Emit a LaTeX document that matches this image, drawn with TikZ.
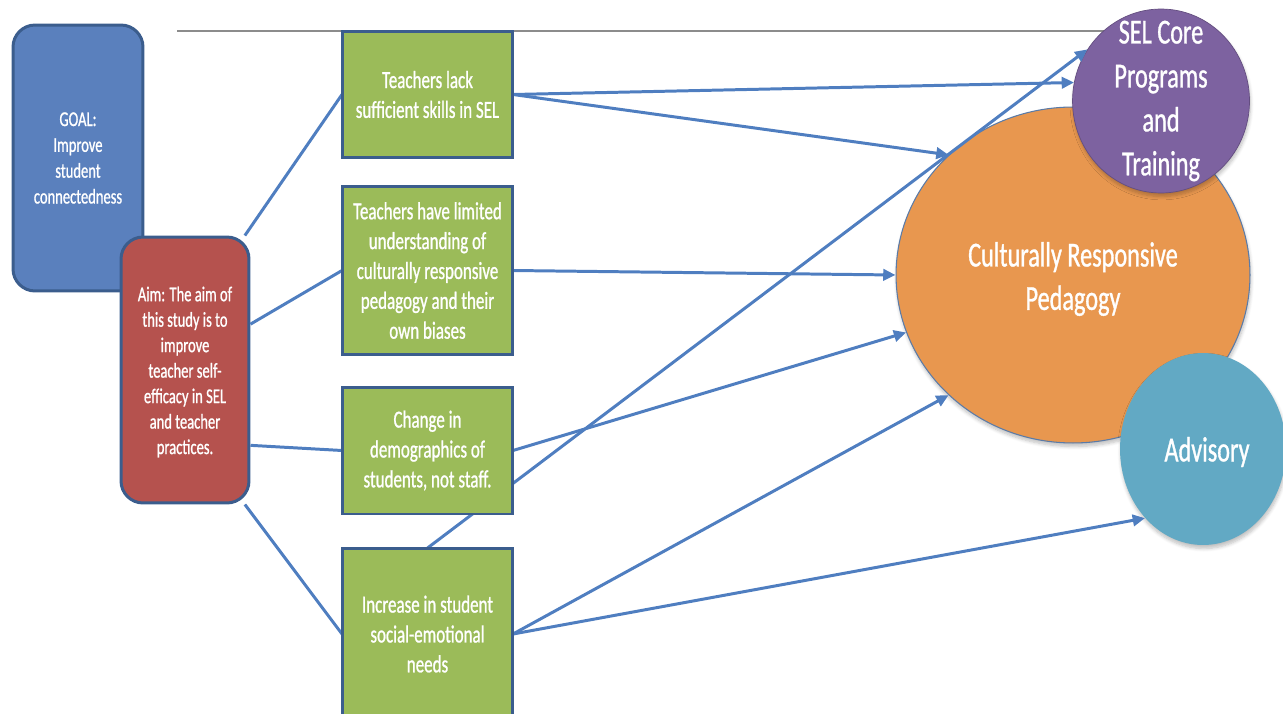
\documentclass[tikz,border=0pt]{standalone}
\usepackage{fontspec}
\setmainfont{Carlito}[FakeStretch=0.69,FakeBold=0.9]
\usetikzlibrary{arrows.meta,shapes.geometric,shadows.blur}

\definecolor{goalfill}{HTML}{5A80BD}
\definecolor{aimfill}{HTML}{B5524E}
\definecolor{boxfill}{HTML}{9BBB59}
\definecolor{boxedge}{HTML}{3B5D8D}
\definecolor{crpfill}{HTML}{E8974F}
\definecolor{crpedge}{HTML}{5A7BA8}
\definecolor{selfill}{HTML}{7D62A0}
\definecolor{advfill}{HTML}{62A9C4}
\definecolor{link}{HTML}{4F7EC0}
\definecolor{rule}{HTML}{8C8C8C}

\tikzset{
  px/.style={x=0.02cm,y=-0.02cm},
  roundbox/.style={draw=boxedge,line width=1.7pt,rounded corners=0.44cm,inner sep=0pt,
    minimum width=2.56cm,minimum height=5.32cm},
  issuebox/.style={draw=boxedge,line width=1.7pt,fill=boxfill,inner sep=0pt,
    minimum width=3.42cm,text=white,align=center,
    font=\fontsize{14}{17}\selectfont},
  smalltext/.style={text=white,align=center,font=\fontsize{12}{14.7}\selectfont},
  bigtext/.style={text=white,align=center,font=\fontsize{20}{24.7}\selectfont},
  bubble/.style={ellipse,inner sep=0pt,
    blur shadow={shadow xshift=0.5pt,shadow yshift=-2pt,shadow blur steps=6,shadow opacity=25}},
  link/.style={draw=link,line width=1.7pt},
  linkarrow/.style={link,-{Triangle[length=7pt,width=6.5pt]}},
}

\begin{document}
\begin{tikzpicture}[px]
\useasboundingbox (0,0) rectangle (1283,713);

% header rule
\coordinate (ruleL) at (177,31);
\coordinate (ruleR) at (1110,31);
\draw[rule,line width=0.6pt] (ruleL) -- (ruleR);

% goal and aim
\node[roundbox,fill=goalfill,minimum width=2.6cm] (goal) at (78,158) {};
\node[smalltext] (goaltext) at (78,158) {GOAL:\\Improve\\student\\connectedness};
\node[roundbox,fill=aimfill] (aim) at (185,370) {};
\node[smalltext,font=\fontsize{12}{14.5}\selectfont] (aimtext) at (185,372)
  {Aim: The aim of\\this study is to\\improve\\teacher self-\\efficacy in SEL\\and teacher\\practices.};

% left ends of the aim links, on the issue boxes
\coordinate (t1w) at (342,94.5);
\coordinate (t2w) at (342,270.5);
\coordinate (t3w) at (342,450.5);
\coordinate (t4w) at (342,634);

% issue box centres
\path (427.5,94.5) coordinate (c1) (427.5,270.5) coordinate (c2)
      (427.5,450.5) coordinate (c3) (427.5,634) coordinate (c4);

% outcome bubbles
\node[bubble,fill=crpfill,draw=crpedge,line width=0.6pt,
  minimum width=7.08cm,minimum height=6.72cm] (crp) at (1073,275) {};
\node[bigtext] (crptext) at (1073,279) {Culturally Responsive\\Pedagogy};
\node[bubble,fill=selfill,draw=selfill!80!black,line width=0.4pt,
  minimum width=3.54cm,minimum height=3.68cm] (sel) at (1161,101) {};
\node[bigtext,font=\fontsize{20}{25}\selectfont] (seltext) at (1161,101)
  {SEL Core\\Programs\\and\\Training};
\node[bubble,fill=advfill,minimum width=3.32cm,minimum height=3.84cm] (adv) at (1203,449) {};
\node[bigtext] (advtext) at (1207,452) {Advisory};

% links, drawn below the issue boxes
\draw[link] (aim.66.6) -- (t1w);
\draw[link] (aim.35) -- (t2w);
\draw[link] (aim.-49.5) -- (t3w);
\draw[link] (aim.-66.8) -- (t4w);

\draw[linkarrow] (513,94.5) -- (sel.168.6);
\draw[linkarrow] (513,94.5) -- (crp.136.4);
\draw[linkarrow] (513,270.5) -- (crp.180.6);
\draw[linkarrow] (513,450.5) -- (crp.199.3);
\draw[linkarrow] (427.5,548) -- (sel.145.3);
\draw[linkarrow] (513,634) -- (crp.224.3);
\draw[linkarrow] (513,634) -- (adv.230.9);

% issue boxes
\node[issuebox,minimum height=2.54cm] (t1) at (c1) {Teachers lack\\sufficient skills in SEL};
\node[issuebox,minimum height=3.38cm] (t2) at (c2)
  {Teachers have limited\\understanding of\\culturally responsive\\pedagogy and their\\own biases};
\node[issuebox,minimum height=2.54cm] (t3) at (c3) {Change in\\demographics of\\students, not staff.};
\node[issuebox,minimum height=3.44cm] (t4) at (c4) {Increase in student\\social-emotional\\needs};
\end{tikzpicture}
\end{document}
